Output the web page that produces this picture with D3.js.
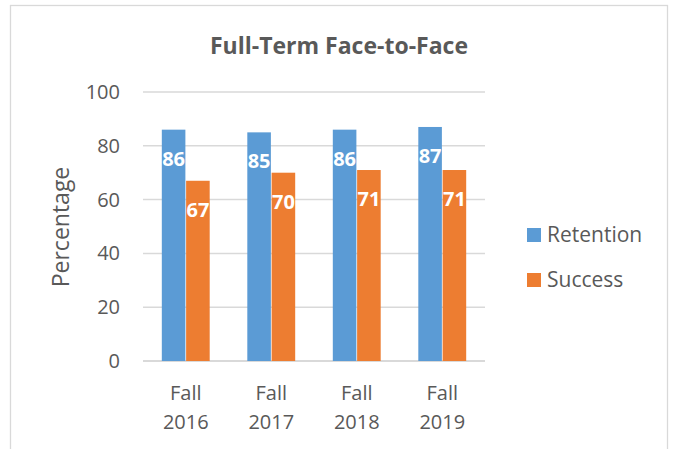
<!DOCTYPE html>
<html>
<head>
<meta charset="utf-8">
<script src="https://cdn.jsdelivr.net/npm/d3@7"></script>
<style>
  body { margin: 0; background: #fff; }
  text { font-family: "Open Sans", sans-serif; fill: #595959; }
</style>
</head>
<body>
<div id="chart"></div>
<script>
const categories = ["Fall 2016", "Fall 2017", "Fall 2018", "Fall 2019"];
const seriesNames = ["Retention", "Success"];
const retention = [86, 85, 86, 87];
const success = [67, 70, 71, 71];
const yTicks = [0, 20, 40, 60, 80, 100];
const colors = ["#5B9BD5", "#ED7D31"];

const width = 673, height = 449;

const svg = d3.select("#chart").append("svg")
    .attr("width", width)
    .attr("height", height);

// chart frame
svg.append("rect")
    .attr("x", 10.5).attr("y", 5.5)
    .attr("width", 657).attr("height", 460)
    .attr("fill", "none")
    .attr("stroke", "#d9d9d9")
    .attr("stroke-width", 1.3);

svg.append("text")
    .attr("x", 339).attr("y", 54)
    .attr("text-anchor", "middle")
    .style("font-size", "23px")
    .style("font-weight", "bold")
    .text("Full-Term Face-to-Face");

const y = d3.scaleLinear().domain([0, 100]).range([361, 92]);
const x = d3.scaleBand().domain(categories).range([143, 485])
    .paddingInner(0.44).paddingOuter(0.22);
const x1 = d3.scaleBand().domain(seriesNames).range([0, x.bandwidth()]).paddingInner(0.03);

// gridlines
svg.append("g")
    .selectAll("line")
    .data(yTicks)
    .join("line")
    .attr("x1", 143).attr("x2", 485)
    .attr("y1", d => y(d)).attr("y2", d => y(d))
    .attr("stroke", "#d9d9d9")
    .attr("stroke-width", d => d === 0 ? 2 : 1.5);

// y tick labels
svg.append("g")
    .selectAll("text")
    .data(yTicks)
    .join("text")
    .attr("x", 120)
    .attr("y", d => y(d) + 7)
    .attr("text-anchor", "end")
    .style("font-size", "20px")
    .text(d => d);

svg.append("text")
    .attr("transform", "translate(69,227) rotate(-90)")
    .attr("text-anchor", "middle")
    .style("font-size", "23px")
    .text("Percentage");

const rows = categories.map((c, i) => ({
    cat: c,
    values: [
        {key: seriesNames[0], value: retention[i], color: colors[0]},
        {key: seriesNames[1], value: success[i], color: colors[1]}
    ]
}));

const groups = svg.append("g")
    .selectAll("g")
    .data(rows)
    .join("g")
    .attr("transform", d => `translate(${x(d.cat)},0)`);

groups.selectAll("rect")
    .data(d => d.values)
    .join("rect")
    .attr("x", d => x1(d.key))
    .attr("y", d => y(d.value))
    .attr("width", x1.bandwidth())
    .attr("height", d => y(0) - y(d.value))
    .attr("fill", d => d.color);

groups.selectAll("text.val")
    .data(d => d.values)
    .join("text")
    .attr("class", "val")
    .attr("x", d => x1(d.key) + x1.bandwidth() / 2)
    .attr("y", d => y(d.value) + 36)
    .attr("text-anchor", "middle")
    .style("font-size", "20px")
    .style("font-weight", "bold")
    .style("fill", "#fff")
    .text(d => d.value);

// x labels
const xl = svg.append("g")
    .selectAll("text")
    .data(categories)
    .join("text")
    .attr("x", d => x(d) + x.bandwidth() / 2)
    .attr("y", 400)
    .attr("text-anchor", "middle")
    .style("font-size", "20px");
xl.append("tspan").attr("x", d => x(d) + x.bandwidth() / 2).text(d => d.split(" ")[0]);
xl.append("tspan").attr("x", d => x(d) + x.bandwidth() / 2).attr("dy", 29).text(d => d.split(" ")[1]);

// legend
const legend = svg.append("g")
    .selectAll("g")
    .data(seriesNames)
    .join("g")
    .attr("transform", (d, i) => `translate(527,${228 + i * 45})`);
legend.append("rect")
    .attr("width", 14).attr("height", 14)
    .attr("fill", (d, i) => colors[i]);
legend.append("text")
    .attr("x", 20).attr("y", 14)
    .style("font-size", "21px")
    .text(d => d);
</script>
</body>
</html>
